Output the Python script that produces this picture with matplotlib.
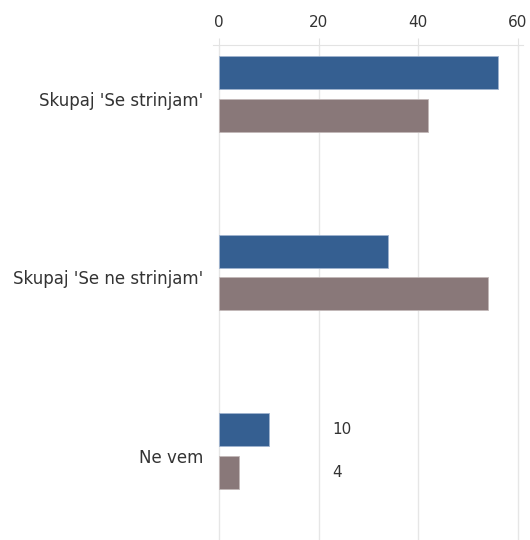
import matplotlib
matplotlib.use("Agg")
import matplotlib.pyplot as plt
import matplotlib.transforms as mtransforms
import numpy as np

categories = ["Skupaj 'Se strinjam'", "Skupaj 'Se ne strinjam'", "Ne vem"]
series_a = [56, 34, 10]
series_b = [42, 54, 4]
xticks = [0, 20, 40, 60]

blue = "#355f91"
mauve = "#897879"

fig = plt.figure(figsize=(5.3, 5.4), dpi=100)
ax = fig.add_axes([213 / 530, 0, 310 / 530, 1 - 45 / 540])

y = np.arange(len(categories))
h = 0.185
off = 0.12
ax.barh(y - off, series_a, height=h, color=blue, edgecolor="#9fb3cf", linewidth=0.6, zorder=3)
ax.barh(y + off, series_b, height=h, color=mauve, edgecolor="#c2b8b8", linewidth=0.6, zorder=3)

# only the last group's labels are visible in the original
ax.text(22.7, y[-1] - off, str(series_a[-1]), ha="left", va="center", fontsize=11, color="#333333")
ax.text(22.7, y[-1] + off, str(series_b[-1]), ha="left", va="center", fontsize=11, color="#333333")

ax.set_xlim(-1.2, 61)
ax.set_ylim(2.5, -0.275)
ax.xaxis.tick_top()
ax.set_xticks(xticks)
ax.set_yticks(y)
ax.set_yticklabels(categories)
ax.tick_params(axis="x", length=5, color="#e3e3e3", pad=6, labelsize=11, labelcolor="#333333")
ax.tick_params(axis="y", length=0, pad=7, labelsize=12, labelcolor="#333333")
ax.grid(axis="x", color="#e6e6e6", linewidth=1, zorder=0)

# category labels sit a little below the group centre
shift = mtransforms.ScaledTranslation(0, -5 / 100, fig.dpi_scale_trans)
for lab in ax.get_yticklabels():
    lab.set_transform(lab.get_transform() + shift)

for s in ["left", "right", "bottom"]:
    ax.spines[s].set_visible(False)
ax.spines["top"].set_color("#e3e3e3")

fig.savefig("out.png", dpi=100)
